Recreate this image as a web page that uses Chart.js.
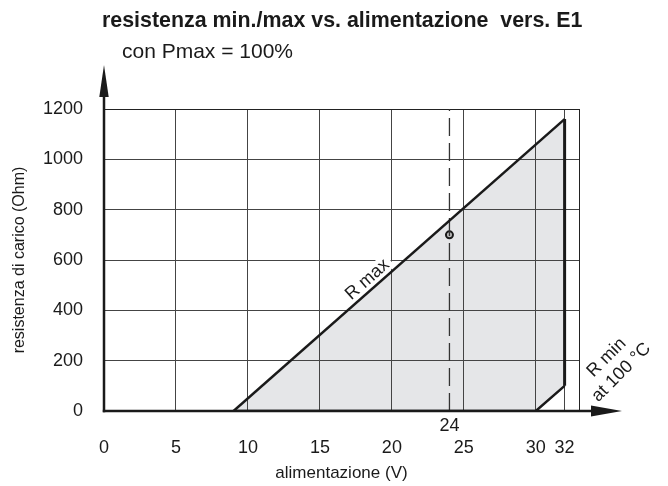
<!DOCTYPE html>
<html lang="it">
<head>
<meta charset="UTF-8">
<title>resistenza min./max vs. alimentazione</title>
<script src="https://cdn.jsdelivr.net/npm/chart.js"></script>
<style>
  html, body { margin: 0; padding: 0; background: #fff; }
  #chart { display: block; }
</style>
</head>
<body>
<canvas id="chart" width="668" height="486"></canvas>
<script>
// valori
const xTicks = [0, 5, 10, 15, 20, 25, 30, 32, 33];
const yTicks = [0, 200, 400, 600, 800, 1000, 1200];
const rmaxV = [9, 32];
const rmaxOhm = [0, 1160];
const rminV = [9, 30, 32];
const rminOhm = [0, 0, 100];
const edgeV = [32, 32];
const edgeOhm = [100, 1160];
const refV = [24, 24];
const refOhm = [0, 1200];
const pointV = [24];
const pointOhm = [700];

const FONT = '"Liberation Sans", Arial, Helvetica, sans-serif';
const INK = '#1a1a1a';
const pts = (xs, ys) => xs.map((x, i) => ({ x: x, y: ys[i] }));

Chart.defaults.font.family = FONT;
Chart.defaults.color = INK;

// testi, assi con frecce, etichette
const decor = {
    id: 'decor',
    beforeDatasetsDraw(chart) {
        const { ctx, scales: { x, y } } = chart;
        const ang = Math.atan2(
            y.getPixelForValue(rmaxOhm[1]) - y.getPixelForValue(rmaxOhm[0]),
            x.getPixelForValue(rmaxV[1]) - x.getPixelForValue(rmaxV[0]));
        ctx.save();
        ctx.translate(x.getPixelForValue(18.3), y.getPixelForValue(522));
        ctx.rotate(ang);
        ctx.font = '18px ' + FONT;
        const w = ctx.measureText('R max').width;
        ctx.fillStyle = '#fff';
        ctx.fillRect(-w / 2 - 4, -9, w + 8, 17);
        ctx.fillStyle = INK;
        ctx.textAlign = 'center';
        ctx.textBaseline = 'middle';
        ctx.fillText('R max', 0, 0);
        ctx.restore();
    },
    afterDatasetsDraw(chart) {
        const { ctx, chartArea: a, scales: { x, y } } = chart;
        const x0 = x.getPixelForValue(0);
        const y0 = y.getPixelForValue(0);
        ctx.save();
        ctx.strokeStyle = INK;
        ctx.fillStyle = INK;
        ctx.lineWidth = 2.5;

        // asse y
        ctx.beginPath();
        ctx.moveTo(x0, y0 + 1.2);
        ctx.lineTo(x0, 92);
        ctx.stroke();
        ctx.beginPath();
        ctx.moveTo(x0, 65);
        ctx.lineTo(x0 - 4.7, 97);
        ctx.lineTo(x0 + 4.7, 97);
        ctx.closePath();
        ctx.fill();

        // asse x
        ctx.beginPath();
        ctx.moveTo(x0 - 1.2, y0);
        ctx.lineTo(596, y0);
        ctx.stroke();
        ctx.beginPath();
        ctx.moveTo(622, y0);
        ctx.lineTo(591, y0 - 5.5);
        ctx.lineTo(591, y0 + 5.5);
        ctx.closePath();
        ctx.fill();

        ctx.font = '18px ' + FONT;
        ctx.textAlign = 'center';
        ctx.textBaseline = 'middle';
        ctx.fillText('24', x.getPixelForValue(24), y0 + 15);

        // R min at 100 °C
        ctx.save();
        ctx.translate(a.right + 35, a.bottom - 46);
        ctx.rotate(-Math.PI / 4);
        ctx.fillText('R min', 0, -10.5);
        ctx.fillText('at 100 \u00B0C', 0, 10.5);
        ctx.restore();

        // titolo
        ctx.textAlign = 'left';
        ctx.font = 'bold 21.4px ' + FONT;
        ctx.fillText('resistenza min./max vs. alimentazione  vers. E1', 102, 21);
        ctx.font = '21px ' + FONT;
        ctx.fillText('con Pmax = 100%', 122, 52);
        ctx.restore();
    }
};

const gridColor = (last) => (c) => {
    const v = c.tick.value;
    if (v === 0) return 'rgba(0,0,0,0)';
    return v === last ? '#222' : '#444';
};

new Chart(document.getElementById('chart'), {
    type: 'scatter',
    data: {
        datasets: [
            {
                data: pts(rmaxV, rmaxOhm),
                showLine: true,
                borderColor: INK,
                borderWidth: 2.5,
                pointRadius: 0,
                backgroundColor: '#e5e6e8',
                fill: '+1'
            },
            {
                data: pts(rminV, rminOhm),
                showLine: true,
                borderColor: INK,
                borderWidth: 2.5,
                pointRadius: 0,
                fill: false
            },
            {
                data: pts(edgeV, edgeOhm),
                showLine: true,
                borderColor: INK,
                borderWidth: 3,
                pointRadius: 0,
                fill: false
            },
            {
                data: pts(refV, refOhm),
                showLine: true,
                borderColor: '#333',
                borderWidth: 1.3,
                borderDash: [18, 7],
                pointRadius: 0,
                fill: false
            },
            {
                data: pts(pointV, pointOhm),
                showLine: false,
                pointRadius: 3.5,
                pointBorderWidth: 2,
                pointBorderColor: INK,
                pointBackgroundColor: '#bbb'
            }
        ]
    },
    options: {
        responsive: false,
        animation: false,
        layout: { padding: { top: 109, right: 89, bottom: 0, left: 0 } },
        plugins: {
            legend: { display: false },
            tooltip: { enabled: false },
            filler: { drawTime: 'beforeDraw' }
        },
        scales: {
            x: {
                type: 'linear',
                min: 0,
                max: 33,
                afterFit: (s) => { s.height = 75; },
                afterBuildTicks: (s) => { s.ticks = xTicks.map(v => ({ value: v })); },
                grid: { color: gridColor(33), lineWidth: 1, drawTicks: false },
                border: { display: false },
                ticks: {
                    autoSkip: false,
                    maxRotation: 0,
                    padding: 26,
                    font: { size: 18 },
                    callback: (v) => (v === 33 ? '' : String(v))
                },
                title: {
                    display: true,
                    text: 'alimentazione (V)',
                    font: { size: 17 },
                    padding: { top: 0, bottom: 2 }
                }
            },
            y: {
                type: 'linear',
                min: 0,
                max: 1200,
                afterFit: (s) => { s.width = 104; },
                afterBuildTicks: (s) => { s.ticks = yTicks.map(v => ({ value: v })); },
                grid: { color: gridColor(1200), lineWidth: 1, drawTicks: false },
                border: { display: false },
                ticks: { padding: 21, font: { size: 18 }, callback: (v) => String(v) },
                title: {
                    display: true,
                    text: 'resistenza di carico (Ohm)',
                    font: { size: 16 },
                    padding: { top: 10, bottom: 0 }
                }
            }
        }
    },
    plugins: [decor]
});
</script>
</body>
</html>
